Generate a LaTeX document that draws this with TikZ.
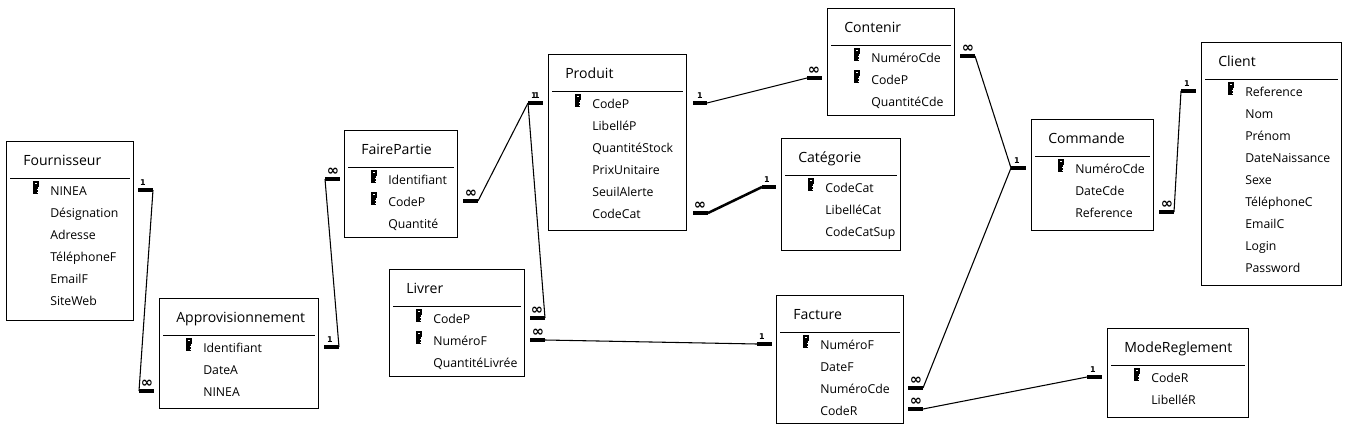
\documentclass[tikz,border=0pt]{standalone}
\usepackage{fontspec}
\setmainfont{Open Sans}
\newfontfamily\relfont{DejaVu Sans}
\usetikzlibrary{calc,positioning,fit}
\tikzset{
	tablebox/.style={draw,line width=0.7pt,inner sep=0pt,fill=white},
	tabletitle/.style={anchor=mid west,inner sep=0pt,font=\fontsize{10.55}{12}\selectfont},
	fieldname/.style={anchor=mid west,inner sep=0pt,font=\fontsize{9.2}{10}\selectfont},
	titlerule/.style={line width=0.7pt},
	stubline/.style={line width=2.7pt},
	relline/.style={line width=0.8pt},
	heavyline/.style={line width=1.9pt},
	endlabel/.style={inner sep=0pt,font=\relfont\bfseries\fontsize{6}{6}\selectfont},
	pics/keyicon/.style={code={
		\fill (-3,-6.5) rectangle (3,-0.5);
		\fill[white] (-1,-4.5) rectangle (1,-3.2);
		\fill (-2.5,-0.5) rectangle (2.5,6.5);
		\fill[white] (1,1.5) rectangle (1.5,2.5);
		\fill[white] (1,4) rectangle (1.5,5);
	}}
}
\newcommand{\manymark}{\fontsize{11}{11}\selectfont ∞}
% table: id, corners, title, number of keys, fields
\newcommand{\dbtable}[8]{
	\coordinate (#1 nw) at (#2,#3);
	\coordinate (#1 se) at (#4,#5);
	\node[tablebox,fit=(#1 nw)(#1 se)] (#1) {};
	\node[tabletitle] (#1 title) at (#2+17,#3+21) {#6};
	\draw[titlerule] (#2+4,#3+37) -- (#4-3,#3+37);
	\foreach \fld [count=\i] in {#8} {
		\node[fieldname] (#1 f\i) at (#2+44,{#3+50.5+22*(\i-1)}) {\fld};
		\ifnum\i>#7\else
			\pic at (#2+29.5,{#3+46.5+22*(\i-1)}) {keyicon};
		\fi
	}
}
% end of a relation: id, x from, x to, y, label x, label
\newcommand{\relend}[6]{
	\coordinate (#1 a) at (#2,#4);
	\coordinate (#1 b) at (#3,#4);
	\draw[stubline] (#1 a) -- (#1 b);
	\node[endlabel] (#1 lab) at (#5,#4-7) {#6};
}
\begin{document}
\begin{tikzpicture}[x=0.75pt,y=-0.75pt]
\useasboundingbox (0,0) rectangle (1348,425);

\dbtable{four}{6}{141}{133}{320}{Fournisseur}{1}{NINEA,Désignation,Adresse,TéléphoneF,EmailF,SiteWeb}
\dbtable{appro}{159}{298}{318}{408}{Approvisionnement}{1}{Identifiant,DateA,NINEA}
\dbtable{fair}{344}{130}{457}{237}{FairePartie}{2}{Identifiant,CodeP,Quantité}
\dbtable{prod}{548}{54}{686}{230}{Produit}{1}{CodeP,LibelléP,QuantitéStock,PrixUnitaire,SeuilAlerte,CodeCat}
\dbtable{livr}{389}{269}{524}{376}{Livrer}{2}{CodeP,NuméroF,QuantitéLivrée}
\dbtable{cont}{827}{8}{954}{115}{Contenir}{2}{NuméroCde,CodeP,QuantitéCde}
\dbtable{cate}{781}{138}{900}{250}{Catégorie}{1}{CodeCat,LibelléCat,CodeCatSup}
\dbtable{fact}{776}{295}{903}{423}{Facture}{1}{NuméroF,DateF,NuméroCde,CodeR}
\dbtable{comm}{1031}{119}{1153}{230}{Commande}{1}{NuméroCde,DateCde,Reference}
\dbtable{clie}{1201}{42}{1341}{285}{Client}{1}{Reference,Nom,Prénom,DateNaissance,Sexe,TéléphoneC,EmailC,Login,Password}
\dbtable{mode}{1107}{328}{1248}{417}{ModeReglement}{1}{CodeR,LibelléR}

\relend{r1}{138}{153}{190}{143}{1}
\relend{r2}{139}{154}{391}{147}{\manymark}
\draw[relline] (r1 b) -- (r2 a);
\relend{r3}{324}{339}{347}{330}{1}
\relend{r4}{325}{340}{179}{333}{\manymark}
\draw[relline] (r3 b) -- (r4 a);
\relend{r5}{463}{478}{201}{471}{\manymark}
\relend{r6}{528}{543}{103}{534}{1}
\node[endlabel] (r6 lab2) at (537,96) {1};
\draw[relline] (r5 b) -- (r6 a);
\relend{r7}{530}{545}{318}{537}{\manymark}
\draw[relline] (r6 a) -- (r7 b);
\relend{r8}{530}{545}{340}{538}{\manymark}
\relend{r9}{757}{772}{344}{762}{1}
\draw[relline] (r8 b) -- (r9 a);
\relend{r10}{693}{707}{103}{700}{1}
\relend{r11}{807}{822}{78}{814}{\manymark}
\draw[relline] (r10 b) -- (r11 a);
\relend{r12}{693}{708}{213}{700}{\manymark}
\relend{r13}{762}{776}{187}{767}{1}
\draw[heavyline] (r12 b) -- (r13 a);
\relend{r14}{960}{975}{56}{968}{\manymark}
\relend{r15}{1011}{1026}{168}{1017}{1}
\draw[relline] (r14 b) -- (r15 a);
\relend{r16}{908}{923}{388}{916}{\manymark}
\draw[relline] (r16 b) -- (r15 a);
\relend{r17}{908}{923}{409}{916}{\manymark}
\relend{r18}{1087}{1102}{377}{1093}{1}
\draw[relline] (r17 b) -- (r18 a);
\relend{r19}{1159}{1174}{212}{1167}{\manymark}
\relend{r20}{1181}{1196}{91}{1187}{1}
\draw[relline] (r19 b) -- (r20 a);
\end{tikzpicture}
\end{document}
